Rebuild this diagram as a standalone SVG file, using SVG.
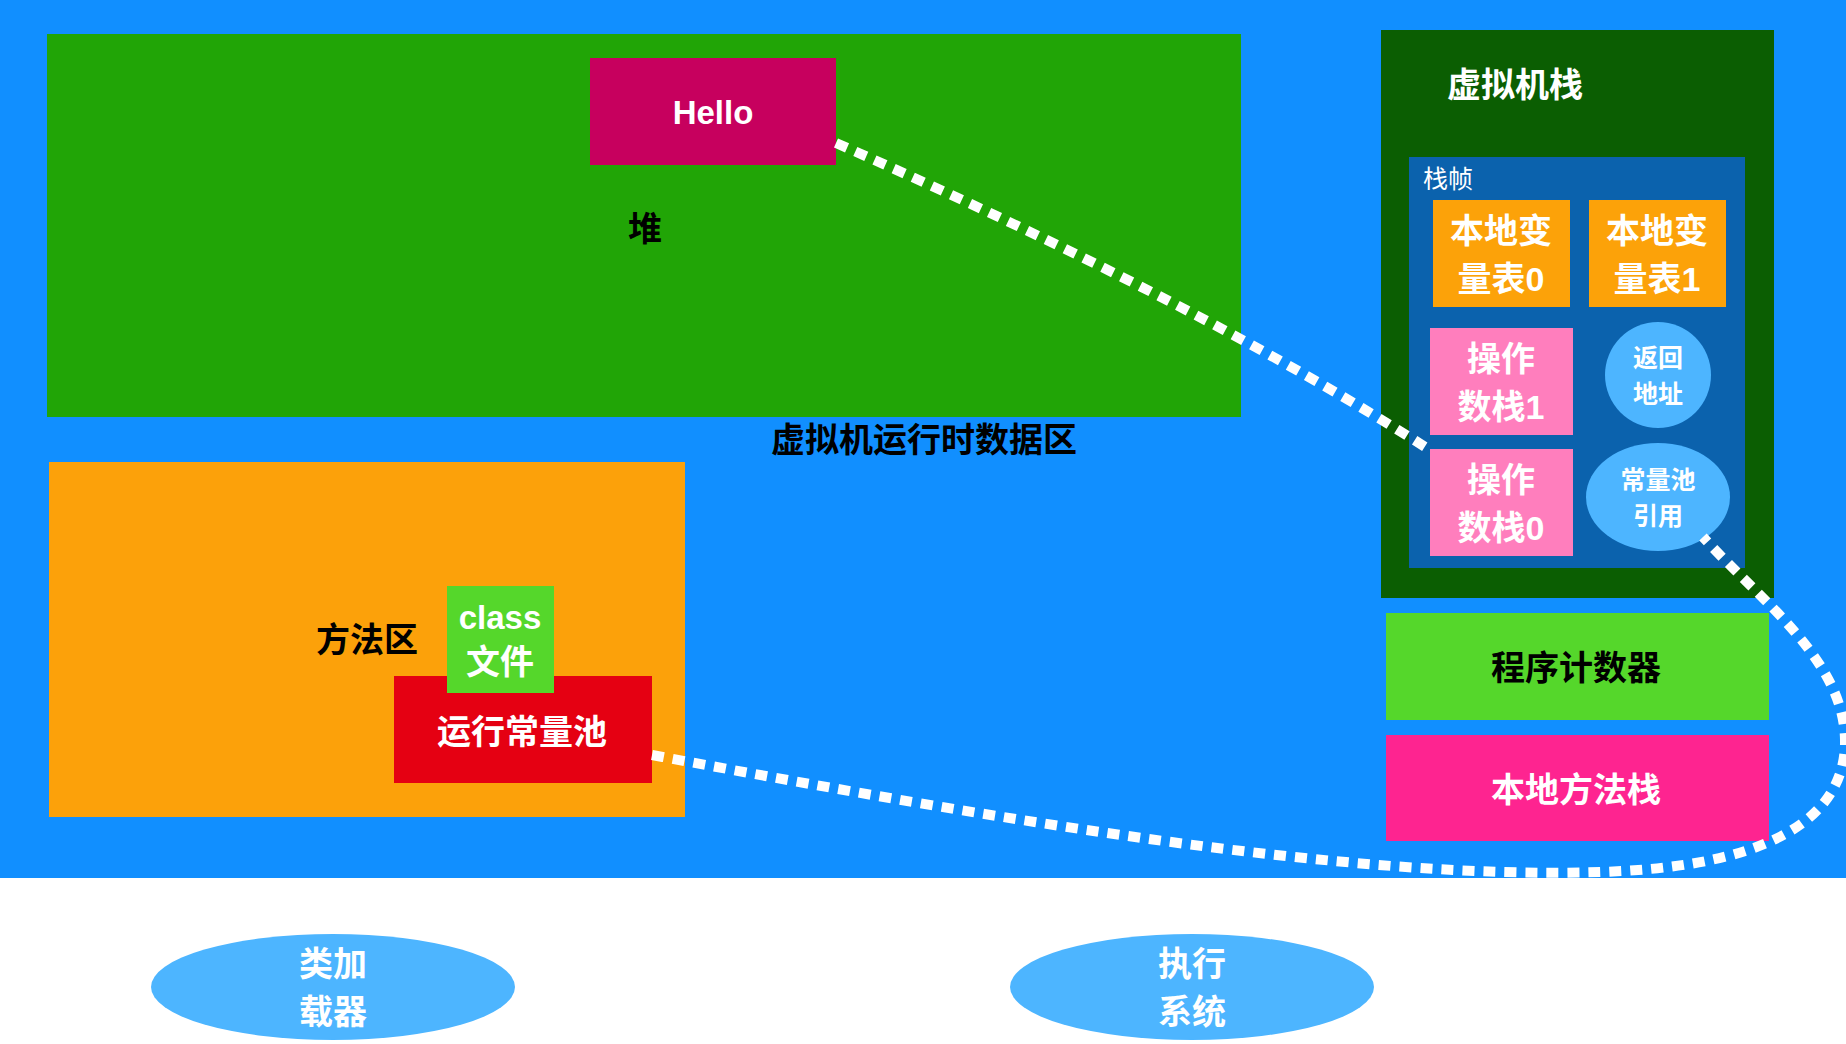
<svg xmlns="http://www.w3.org/2000/svg" width="1846" height="1044" viewBox="0 0 1846 1044">
<style>
text{font-family:"Liberation Sans","Noto Sans CJK SC",sans-serif;font-weight:bold;text-anchor:middle}
.w{fill:#ffffff}
.k{fill:#000000}
.f34{font-size:34px}
.f25{font-size:25px}
.dot{fill:none;stroke:#ffffff;stroke-width:10;stroke-dasharray:12 9}
</style>
<rect x="0" y="0" width="1846" height="1044" fill="#ffffff"/>
<rect id="bg" x="0" y="0" width="1846" height="878" fill="#118fff"/>
<g id="heap">
<rect x="47" y="34" width="1194" height="383" fill="#21a506"/>
<text class="k f34" x="645" y="241">堆</text>
</g>
<g id="hello">
<rect x="590" y="58" width="246" height="107" fill="#c7005e"/>
<text class="w" font-size="33" x="713" y="124">Hello</text>
</g>
<g id="runtime-label">
<text class="k f34" x="924" y="452">虚拟机运行时数据区</text>
</g>
<g id="method-area">
<rect x="49" y="462" width="636" height="355" fill="#fca10a"/>
<text class="k f34" x="367" y="652">方法区</text>
</g>
<g id="runtime-constant-pool">
<rect x="394" y="676" width="258" height="107" fill="#e50012"/>
<text class="w f34" x="522" y="744">运行常量池</text>
</g>
<g id="class-file">
<rect x="447" y="586" width="107" height="107" fill="#55d72b"/>
<text class="w" font-size="33" x="500" y="629">class</text>
<text class="w f34" x="500" y="674">文件</text>
</g>
<g id="vm-stack">
<rect x="1381" y="30" width="393" height="568" fill="#0b5e02"/>
<text class="w f34" x="1515" y="97">虚拟机栈</text>
</g>
<g id="stack-frame">
<rect x="1409" y="157" width="336" height="411" fill="#0b62ad"/>
<text class="w f25" x="1423" y="188" style="text-anchor:start;font-weight:normal">栈帧</text>
</g>
<g id="local-var-0">
<rect x="1433" y="200" width="137" height="107" fill="#fca209"/>
<text class="w f34" x="1501" y="243">本地变</text>
<text class="w f34" x="1501" y="291">量表0</text>
</g>
<g id="local-var-1">
<rect x="1589" y="200" width="137" height="107" fill="#fca209"/>
<text class="w f34" x="1657" y="243">本地变</text>
<text class="w f34" x="1657" y="291">量表1</text>
</g>
<g id="operand-1">
<rect x="1430" y="328" width="143" height="107" fill="#ff7ebd"/>
<text class="w f34" x="1501" y="371">操作</text>
<text class="w f34" x="1501" y="419">数栈1</text>
</g>
<g id="operand-0">
<rect x="1430" y="449" width="143" height="107" fill="#ff7ebd"/>
<text class="w f34" x="1501" y="492">操作</text>
<text class="w f34" x="1501" y="540">数栈0</text>
</g>
<g id="return-address">
<ellipse cx="1658" cy="375" rx="53" ry="53" fill="#4db5ff"/>
<text class="w f25" x="1658" y="367">返回</text>
<text class="w f25" x="1658" y="403">地址</text>
</g>
<g id="constant-pool-ref">
<ellipse cx="1658" cy="497" rx="72" ry="54" fill="#4db5ff"/>
<text class="w f25" x="1658" y="489">常量池</text>
<text class="w f25" x="1658" y="525">引用</text>
</g>
<g id="program-counter">
<rect x="1386" y="613" width="383" height="107" fill="#55d72b"/>
<text class="k f34" x="1576" y="680">程序计数器</text>
</g>
<g id="native-method-stack">
<rect x="1386" y="735" width="383" height="106" fill="#fe2490"/>
<text class="w f34" x="1576" y="802">本地方法栈</text>
</g>
<g id="class-loader">
<ellipse cx="333" cy="987" rx="182" ry="53" fill="#4db5ff"/>
<text class="w f34" x="333" y="976">类加</text>
<text class="w f34" x="333" y="1024">载器</text>
</g>
<g id="execution-system">
<ellipse cx="1192" cy="987" rx="182" ry="53" fill="#4db5ff"/>
<text class="w f34" x="1192" y="976">执行</text>
<text class="w f34" x="1192" y="1024">系统</text>
</g>
<g id="connectors">
<path class="dot" d="M836,143 Q1200,303 1430,450"/>
<path class="dot" d="M652,755 C1000,820 1350,880 1600,872 C1800,866 1846,800 1845,740 C1844,660 1760,600 1703,537"/>
</g>
</svg>
